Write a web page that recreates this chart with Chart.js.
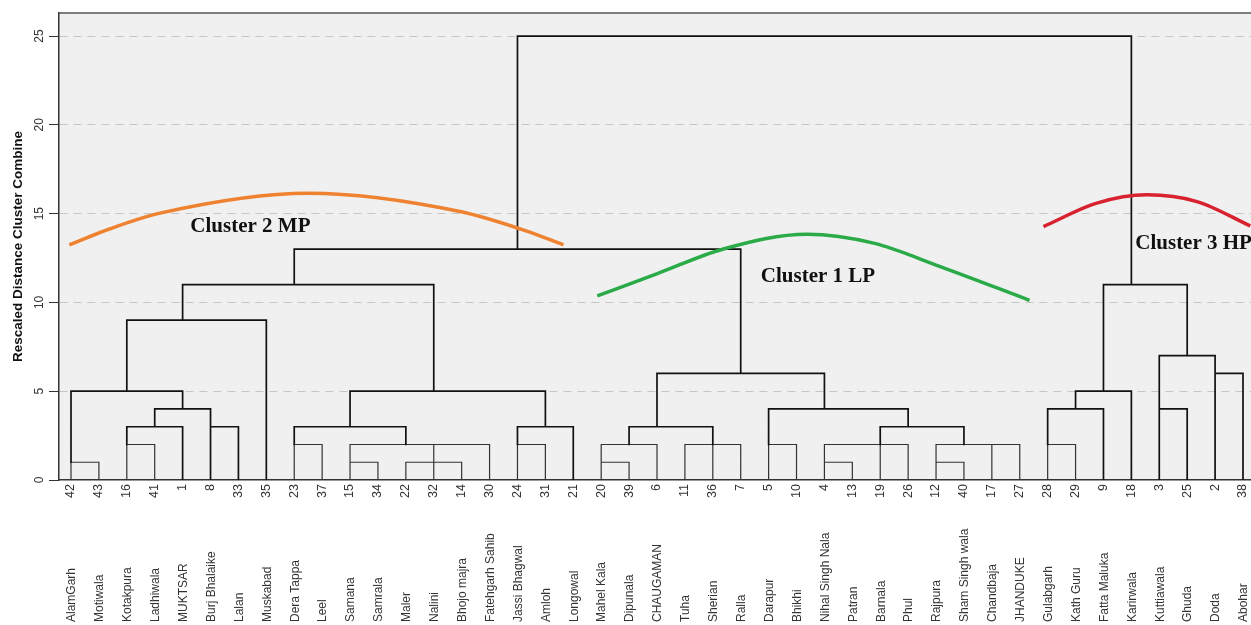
<!DOCTYPE html>
<html>
<head>
<meta charset="utf-8">
<title>Dendrogram - Rescaled Distance Cluster Combine</title>
<script src="https://cdn.jsdelivr.net/npm/chart.js@4.4.1/dist/chart.umd.min.js"></script>
<style>
  html, body { margin: 0; padding: 0; background: #fff; }
  #wrap { width: 1251px; height: 625px; }
</style>
</head>
<body>
<div id="wrap"><canvas id="dendro"></canvas></div>
<script>
// Leaf order, left to right
const leafIds = [42, 43, 16, 41, 1, 8, 33, 35, 23, 37, 15, 34, 22, 32, 14, 30, 24, 31, 21,
  20, 39, 6, 11, 36, 7, 5, 10, 4, 13, 19, 26, 12, 40, 17, 27, 28, 29, 9, 18, 3, 25, 2, 38];
const leafNames = ['AlamGarh', 'Motiwala', 'Kotakpura', 'Ladhiwala', 'MUKTSAR', 'Burj Bhalaike',
  'Lalan', 'Muskabad', 'Dera Tappa', 'Leel', 'Samana', 'Samrala', 'Maler', 'Nalini', 'Bhojo majra',
  'Fatehgarh Sahib', 'Jassi Bhagwal', 'Amloh', 'Longowal', 'Mahel Kala', 'Dipunala', 'CHAUGAMAN',
  'Tuha', 'Sherian', 'Ralla', 'Darapur', 'Bhikhi', 'Nihal Singh Nala', 'Patran', 'Barnala', 'Phul',
  'Rajpura', 'Sham Singh wala', 'Chandbaja', 'JHANDUKE', 'Gulabgarh', 'Kath Guru', 'Fatta Maluka',
  'Karirwala', 'Kuttiawala', 'Ghuda', 'Doda', 'Abohar'];
const yTicks = [0, 5, 10, 15, 20, 25];

// merges: [height, childPos, childHeight, childPos, childHeight, ...] (positions = leaf index)
const merges = [
  // cluster 2 MP
  [1, 0, 0, 1, 0], [2, 2, 0, 3, 0], [3, 2, 2, 4, 0], [3, 5, 0, 6, 0], [4, 3, 3, 5, 3],
  [5, 0, 1, 4, 4], [9, 2, 5, 7, 0], [11, 4, 9, 13, 5],
  [2, 8, 0, 9, 0], [1, 10, 0, 11, 0], [1, 12, 0, 13, 0, 14, 0], [2, 10, 1, 13, 1, 15, 0],
  [3, 8, 2, 12, 2], [2, 16, 0, 17, 0], [3, 16, 2, 18, 0], [5, 10, 3, 17, 3],
  // cluster 1 LP
  [1, 19, 0, 20, 0], [2, 19, 1, 21, 0], [2, 22, 0, 23, 0, 24, 0], [3, 20, 2, 23, 2],
  [2, 25, 0, 26, 0], [1, 27, 0, 28, 0], [2, 27, 1, 29, 0, 30, 0], [1, 31, 0, 32, 0],
  [2, 31, 1, 33, 0, 34, 0], [3, 29, 2, 32, 2], [4, 25, 2, 30, 3], [6, 21, 3, 27, 4],
  // cluster 3 HP
  [2, 35, 0, 36, 0], [4, 35, 2, 37, 0], [5, 36, 4, 38, 0], [4, 39, 0, 40, 0],
  [6, 41, 0, 42, 0], [7, 39, 4, 41, 6], [11, 37, 5, 40, 7],
  // top
  [13, 8, 11, 24, 6], [25, 16, 13, 38, 11]
];

// hand-drawn cluster arcs [leafPos, height]
const mpArc = [[-0.06, 13.24], [1.4, 14.15], [3.19, 15.03], [8.51, 16.15], [13.94, 15.12], [16.33, 14.02], [17.65, 13.24]];
const lpArc = [[18.86, 10.37], [20.99, 11.61], [23.38, 13.01], [26.37, 13.84], [28.76, 13.34], [31.15, 12.02], [34.35, 10.12]];
const hpArc = [[34.85, 14.27], [36.76, 15.59], [38.56, 16.06], [40.35, 15.68], [42.26, 14.31]];

const clusterLabels = [
  ['Cluster 2 MP', 6.43, 14.27, 'center'],
  ['Cluster 1 LP', 26.77, 11.45, 'center'],
  ['Cluster 3 HP', 38.14, 13.34, 'left']
];

function mergePoints(list) {
  const pts = [];
  list.forEach(m => {
    const top = m[0];
    const kids = [];
    for (let k = 1; k < m.length; k += 2) kids.push([m[k], m[k + 1]]);
    kids.sort((a, b) => a[0] - b[0]);
    const first = kids[0], last = kids[kids.length - 1];
    pts.push({x: first[0], y: first[1]}, {x: first[0], y: top}, {x: last[0], y: top},
      {x: last[0], y: last[1]}, {x: null, y: null});
    kids.slice(1, -1).forEach(c => {
      pts.push({x: c[0], y: c[1]}, {x: c[0], y: top}, {x: null, y: null});
    });
  });
  return pts;
}

const arcSet = (pts, color) => ({
  data: pts.map(p => ({x: p[0], y: p[1]})),
  borderColor: color,
  borderWidth: 3.5,
  cubicInterpolationMode: 'monotone',
  pointRadius: 0,
  fill: false
});

const treeSet = (list, color, width) => ({
  data: mergePoints(list),
  borderColor: color,
  borderWidth: width,
  borderJoinStyle: 'miter',
  borderCapStyle: 'square',
  tension: 0,
  spanGaps: false,
  pointRadius: 0,
  fill: false
});

const decorations = {
  id: 'decorations',
  beforeDraw(chart) {
    const {ctx, chartArea: a} = chart;
    ctx.save();
    ctx.fillStyle = '#f0f0f0';
    ctx.fillRect(a.left, a.top, a.right - a.left, a.bottom - a.top);
    ctx.restore();
  },
  afterDraw(chart) {
    const {ctx, chartArea: a, scales: {x, y}} = chart;
    ctx.save();
    ctx.strokeStyle = '#555';
    ctx.lineWidth = 1.5;
    ctx.beginPath();
    ctx.moveTo(a.left, a.top);
    ctx.lineTo(a.right, a.top);
    ctx.stroke();

    // station names under the leaf numbers
    ctx.fillStyle = '#333';
    ctx.font = '12px "Liberation Sans", Arial, sans-serif';
    ctx.textAlign = 'left';
    ctx.textBaseline = 'middle';
    leafNames.forEach((name, i) => {
      ctx.save();
      ctx.translate(x.getPixelForValue(i) + 1, x.bottom - 3);
      ctx.rotate(-Math.PI / 2);
      ctx.fillText(name, 0, 0);
      ctx.restore();
    });

    ctx.font = 'bold 21px "Liberation Serif", "Times New Roman", serif';
    ctx.fillStyle = '#111';
    clusterLabels.forEach(([text, lx, ly, align]) => {
      ctx.textAlign = align;
      ctx.fillText(text, x.getPixelForValue(lx), y.getPixelForValue(ly));
    });
    ctx.restore();
  }
};

Chart.defaults.font.family = '"Liberation Sans", Arial, sans-serif';

new Chart(document.getElementById('dendro'), {
  type: 'line',
  data: {
    datasets: [
      arcSet(mpArc, '#ef8230'),
      arcSet(lpArc, '#2aab48'),
      arcSet(hpArc, '#d8222f'),
      treeSet(merges.filter(m => m[0] > 2), '#111', 1.7),
      treeSet(merges.filter(m => m[0] <= 2), '#333', 1.2)
    ]
  },
  options: {
    responsive: true,
    maintainAspectRatio: false,
    animation: false,
    layout: { padding: { top: 13, left: 0, right: 0, bottom: 0 }, autoPadding: false },
    plugins: { legend: { display: false }, tooltip: { enabled: false } },
    scales: {
      x: {
        type: 'linear',
        min: -0.43,
        max: 42.287,
        afterBuildTicks: s => { s.ticks = leafIds.map((id, i) => ({ value: i })); },
        afterFit: s => { s.height = 145; s.paddingLeft = 0; s.paddingRight = 0; },
        grid: { display: false, drawTicks: false },
        border: { color: '#333', width: 1.5 },
        ticks: {
          autoSkip: false,
          minRotation: 90,
          maxRotation: 90,
          padding: 4,
          color: '#333',
          font: { size: 12.5 },
          callback: (v, i) => leafIds[i]
        }
      },
      y: {
        min: 0,
        max: 26.3,
        afterBuildTicks: s => { s.ticks = yTicks.map(v => ({ value: v })); },
        afterFit: s => { s.width = 59; s.paddingTop = 0; s.paddingBottom = 0; },
        grid: {
          color: c => (c.tick && c.tick.value === 0) ? 'rgba(0,0,0,0)' : '#c6c6c6',
          tickColor: '#333',
          tickLength: 10,
          tickBorderDash: [],
          lineWidth: 1
        },
        border: { color: '#333', width: 1.5, dash: [8, 6] },
        ticks: {
          minRotation: 90,
          maxRotation: 90,
          crossAlign: 'center',
          padding: 3,
          color: '#333',
          font: { size: 12 }
        },
        title: {
          display: true,
          text: 'Rescaled Distance Cluster Combine',
          color: '#111',
          font: { size: 13.5, weight: 'bold' },
          padding: { top: 10, bottom: 0 }
        }
      }
    }
  },
  plugins: [decorations]
});
</script>
</body>
</html>
